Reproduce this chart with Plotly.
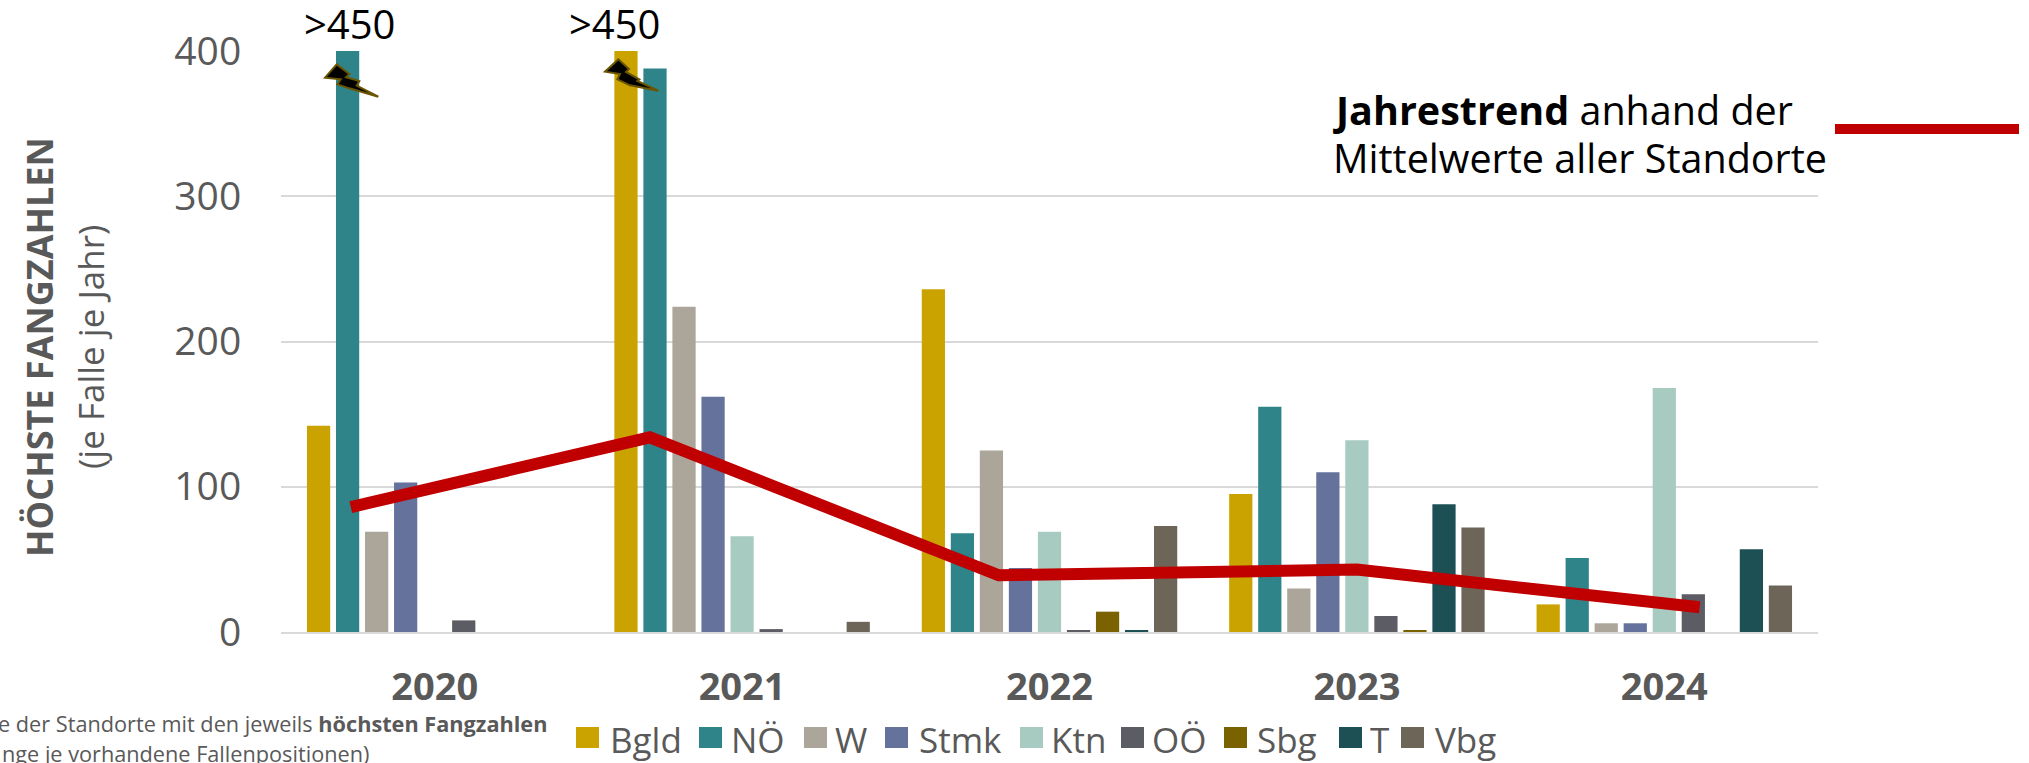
import plotly.graph_objects as go

years = [2020, 2021, 2022, 2023, 2024]
series_names = ["Bgld", "NÖ", "W", "Stmk", "Ktn", "OÖ", "Sbg", "T", "Vbg"]
bgld = [142, 450, 236, 95, 19]
noe = [450, 388, 68, 155, 51]
wien = [69, 224, 125, 30, 6]
stmk = [103, 162, 44, 110, 6]
ktn = [0, 66, 69, 132, 168]
ooe = [8, 2, 1, 11, 26]
sbg = [0, 0, 14, 1, 0]
tirol = [0, 0, 1, 88, 57]
vbg = [0, 7, 73, 72, 32]
trend_x = [2019.727, 2020.70, 2021.835, 2023.0, 2024.115]
trend_y = [86, 134, 39, 43, 17]
colors = ["#CBA300", "#2E8489", "#ACA599", "#64729C", "#A7CBC0", "#5C5C64", "#7B6200", "#1C5054", "#6C6558"]
series = [bgld, noe, wien, stmk, ktn, ooe, sbg, tirol, vbg]

W, H = 2029, 763
L, R, T, B = 281, 1818, 51, 632
FONT = "Open Sans"
GREY = "#595959"


def px(x):
    return (x - L) / (R - L)


def py(y):
    return (B - y) / (B - T)


def label(text, x, y, size, color=GREY, xanchor="center", angle=0):
    return dict(text=text, xref="paper", yref="paper", x=px(x), y=py(y), xanchor=xanchor, yanchor="middle",
                textangle=angle, showarrow=False, font=dict(family=FONT, size=size, color=color))


fig = go.Figure()
for name, vals, col in zip(series_names, series, colors):
    fig.add_bar(x=years, y=vals, name=name, marker_color=col,
                marker_line_width=0, showlegend=False)
fig.add_scatter(x=trend_x, y=trend_y, mode="lines", showlegend=False,
                line=dict(color="#C00000", width=12, shape="linear"))

ann = []
shapes = []
# hand-placed legend, sized like the reference
legend_swatch = [576, 699, 804, 885, 1020, 1121, 1224, 1339, 1401]
legend_text = [608, 729, 833, 917, 1049, 1150, 1255, 1368, 1433]
for name, col, sx, tx in zip(series_names, colors, legend_swatch, legend_text):
    shapes.append(dict(type="rect", xref="paper", yref="paper", x0=px(sx), x1=px(sx + 23),
                       y0=py(748), y1=py(727), fillcolor=col, line_width=0))
    ann.append(label(name, tx, 739, 35, xanchor="left"))

ann += [
    label("<b>HÖCHSTE FANGZAHLEN</b>", 39, 347, 36, angle=-90),
    label("(je Falle je Jahr)", 90, 347, 35, angle=-90),
    label("e der Standorte mit den jeweils <b>höchsten Fangzahlen</b>", 549, 723, 21.7, xanchor="right"),
    label("nge je vorhandene Fallenpositionen)", 0, 753, 21.7, xanchor="left"),
    label(">450", 349, 24, 40, color="#000000"),
    label(">450", 614, 24, 40, color="#000000"),
    label("<b>Jahrestrend</b> anhand der", 1331, 110, 39.5, color="#000000", xanchor="left"),
    label("Mittelwerte aller Standorte", 1331, 158, 39.5, color="#000000", xanchor="left"),
]

# legend key of the trend line
shapes.append(dict(type="line", xref="paper", yref="paper", x0=px(1835), x1=px(2019), y0=py(129), y1=py(129),
                   line=dict(color="#C00000", width=10)))


# lightning bolts
def bolt(points):
    d = "M" + "L".join(f"{px(280 + a / 3):.5f},{py(b / 3):.5f}" for a, b in points) + "Z"
    return dict(type="path", xref="paper", yref="paper", path=d, fillcolor="#000000",
                line=dict(color="#6B5400", width=2))


shapes.append(bolt([(170, 193), (208, 222), (198, 232), (238, 243), (230, 257), (295, 290), (208, 265),
                    (172, 253), (182, 238), (135, 233)]))
shapes.append(bolt([(1015, 178), (1047, 207), (1038, 216), (1078, 238), (1072, 243), (1135, 272), (1050, 256),
                    (1012, 238), (1020, 222), (975, 215)]))

fig.update_layout(
    width=W, height=H, autosize=False,
    margin=dict(l=L, r=W - R, t=T, b=H - B),
    paper_bgcolor="white", plot_bgcolor="white",
    barmode="group", bargap=0.15, bargroupgap=0.2,
    font=dict(family=FONT, color=GREY),
    annotations=ann, shapes=shapes, showlegend=False,
    xaxis=dict(range=[2019.5, 2024.5], tickvals=years, ticktext=[f"<b>{y}</b>" for y in years],
               tickfont=dict(family=FONT, size=38, color=GREY), showgrid=False, showline=True,
               linecolor="#D9D9D9", linewidth=2, ticks="outside", ticklen=20, tickcolor="rgba(0,0,0,0)",
               zeroline=False),
    yaxis=dict(range=[0, 400], tickvals=[0, 100, 200, 300, 400],
               tickfont=dict(family=FONT, size=39, color=GREY), gridcolor="#D9D9D9", gridwidth=1.5,
               zeroline=False, showline=False, ticks="outside", ticklen=31, tickcolor="rgba(0,0,0,0)"),
)
fig.write_html("out.html", config={"displayModeBar": False},
               post_script="document.body.style.margin='0';document.body.style.overflow='hidden';")
